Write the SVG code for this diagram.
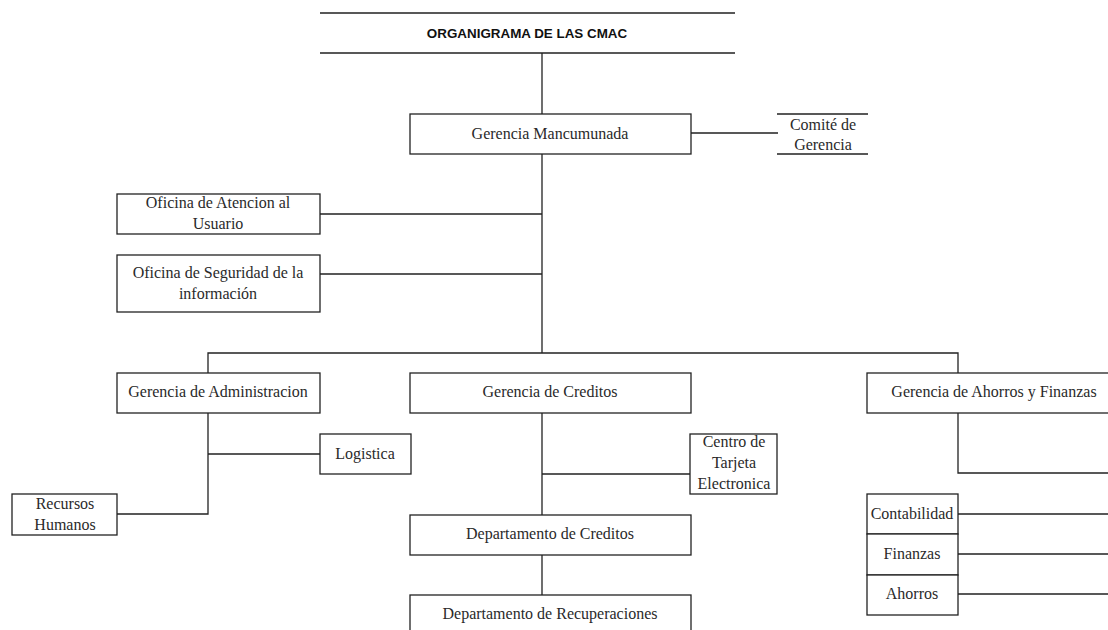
<svg xmlns="http://www.w3.org/2000/svg" width="1108" height="630" viewBox="0 0 1108 630">
<style>
.b{fill:#fff;stroke:#222;stroke-width:1.3}
.l{fill:none;stroke:#222;stroke-width:1.3}
.t{font-family:"Liberation Serif",serif;font-size:16px;fill:#2a2a2a;text-anchor:middle}
.h{font-family:"Liberation Sans",sans-serif;font-size:13.4px;font-weight:bold;fill:#111;text-anchor:middle}
</style>
<rect width="1108" height="630" fill="#fff"/>
<g id="connectors">
<path class="l" d="M542 53V353M691 133H778M320 214H542M320 274H542M208 373V353H958V373"/>
<path class="l" d="M208 413V514H117M208 454H320"/>
<path class="l" d="M542 413V515M542 474H690M542 555V595"/>
<path class="l" d="M958 413V473H1108M958 514H1108M958 554H1108M958 594H1108"/>
</g>
<g id="title">
<path class="l" d="M320 13H735M320 53H735"/>
<text class="h" x="527" y="38">ORGANIGRAMA DE LAS CMAC</text>
</g>
<g id="gerencia-mancumunada"><rect class="b" x="410" y="114" width="281" height="40"/><text class="t" x="550" y="139">Gerencia Mancumunada</text></g>
<g id="comite"><path class="l" d="M777 114H868M777 154H868"/><text class="t" x="823" y="130">Comité de</text><text class="t" x="823" y="150">Gerencia</text></g>
<g id="oficina-atencion"><rect class="b" x="117" y="194" width="203" height="40"/><text class="t" x="218" y="208">Oficina de Atencion al</text><text class="t" x="218" y="229">Usuario</text></g>
<g id="oficina-seguridad"><rect class="b" x="117" y="255" width="203" height="57"/><text class="t" x="218" y="278">Oficina de Seguridad de la</text><text class="t" x="218" y="299">información</text></g>
<g id="gerencia-admin"><rect class="b" x="117" y="373" width="203" height="40"/><text class="t" x="218" y="397">Gerencia de Administracion</text></g>
<g id="gerencia-creditos"><rect class="b" x="410" y="373" width="281" height="40"/><text class="t" x="550" y="397">Gerencia de Creditos</text></g>
<g id="gerencia-ahorros"><rect class="b" x="867" y="373" width="250" height="40"/><text class="t" x="994" y="397">Gerencia de Ahorros y Finanzas</text></g>
<g id="logistica"><rect class="b" x="320" y="434" width="91" height="40"/><text class="t" x="365" y="459">Logistica</text></g>
<g id="recursos-humanos"><rect class="b" x="12" y="494" width="105" height="41"/><text class="t" x="65" y="509">Recursos</text><text class="t" x="65" y="530">Humanos</text></g>
<g id="centro-tarjeta"><rect class="b" x="690" y="434" width="87" height="60"/><text class="t" x="734" y="447">Centro de</text><text class="t" x="734" y="468">Tarjeta</text><text class="t" x="734" y="489">Electronica</text></g>
<g id="depto-creditos"><rect class="b" x="410" y="515" width="281" height="40"/><text class="t" x="550" y="539">Departamento de Creditos</text></g>
<g id="depto-recuperaciones"><rect class="b" x="410" y="595" width="281" height="40"/><text class="t" x="550" y="619">Departamento de Recuperaciones</text></g>
<g id="contabilidad"><rect class="b" x="867" y="494" width="91" height="40"/><text class="t" x="912" y="519">Contabilidad</text></g>
<g id="finanzas"><rect class="b" x="867" y="534" width="91" height="41"/><text class="t" x="912" y="559">Finanzas</text></g>
<g id="ahorros"><rect class="b" x="867" y="575" width="91" height="40"/><text class="t" x="912" y="599">Ahorros</text></g>
</svg>
